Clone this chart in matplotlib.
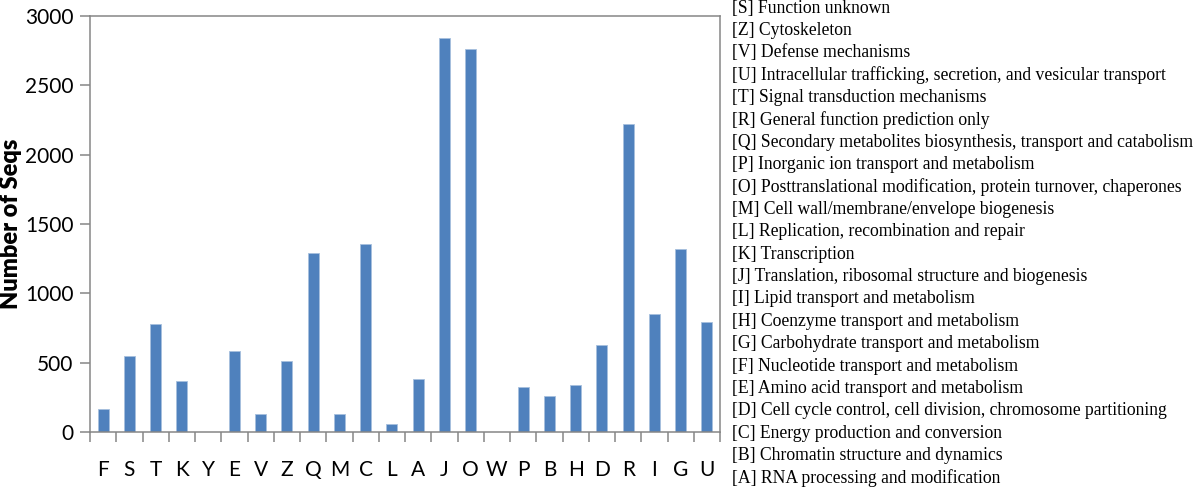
import numpy as np
import matplotlib
matplotlib.use("Agg")
import matplotlib.pyplot as plt

# COG categories in plotted order and counts
categories = ['F', 'S', 'T', 'K', 'Y', 'E', 'V', 'Z', 'Q', 'M', 'C', 'L',
              'A', 'J', 'O', 'W', 'P', 'B', 'H', 'D', 'R', 'I', 'G', 'U']
counts = [165, 550, 780, 365, 0, 585, 130, 510, 1290, 130, 1355, 60,
          385, 2840, 2765, 0, 327, 257, 340, 627, 2222, 848, 1320, 790]

legend_lines = [
    "[S] Function unknown",
    "[Z] Cytoskeleton",
    "[V] Defense mechanisms",
    "[U] Intracellular trafficking, secretion, and vesicular transport",
    "[T] Signal transduction mechanisms",
    "[R] General function prediction only",
    "[Q] Secondary metabolites biosynthesis, transport and catabolism",
    "[P] Inorganic ion transport and metabolism",
    "[O] Posttranslational modification, protein turnover, chaperones",
    "[M] Cell wall/membrane/envelope biogenesis",
    "[L] Replication, recombination and repair",
    "[K] Transcription",
    "[J] Translation, ribosomal structure and biogenesis",
    "[I] Lipid transport and metabolism",
    "[H] Coenzyme transport and metabolism",
    "[G] Carbohydrate transport and metabolism",
    "[F] Nucleotide transport and metabolism",
    "[E] Amino acid transport and metabolism",
    "[D] Cell cycle control, cell division, chromosome partitioning",
    "[C] Energy production and conversion",
    "[B] Chromatin structure and dynamics",
    "[A] RNA processing and modification",
]

fig = plt.figure(figsize=(12, 4.87), dpi=100)
ax = fig.add_axes([0.075, 0.1129, 0.525, 0.8542])

idx = np.arange(len(categories))
ax.bar(idx, counts, width=0.42, color='#4F81BD', edgecolor='#A7C0DE',
       linewidth=0.6, zorder=2)

ax.set_xlim(-0.5, len(categories) - 0.5)
ax.set_ylim(0, 3000)
ax.set_yticks(np.arange(0, 3001, 500))

# category boundary ticks on x, labels centred between them
ax.set_xticks(np.arange(-0.5, len(categories)), minor=False)
ax.set_xticklabels([])
ax.set_xticks(idx, minor=True)
ax.set_xticklabels(categories, minor=True, fontsize=15, family='Lato')
ax.tick_params(axis='x', which='minor', length=0, pad=20)
ax.tick_params(axis='x', which='major', length=7, width=1.1, color='#868686')
ax.tick_params(axis='y', length=7, width=1.1, color='#868686', pad=5,
               labelsize=15)
for lab in ax.get_yticklabels():
    lab.set_family('Lato')

for sp in ax.spines.values():
    sp.set_color('#868686')
    sp.set_linewidth(1.1)

ax.set_ylabel('Number of Seqs', fontsize=17, fontweight='heavy',
              family='Lato', labelpad=2)

# right-hand text legend
y0 = 1 - 8 / 487.0
step = 22.38 / 487.0
for i, line in enumerate(legend_lines):
    fig.text(0.61, y0 - i * step, line, fontsize=12.7,
             family='Liberation Serif', va='center', ha='left')

plt.savefig("out.png", dpi=100)
